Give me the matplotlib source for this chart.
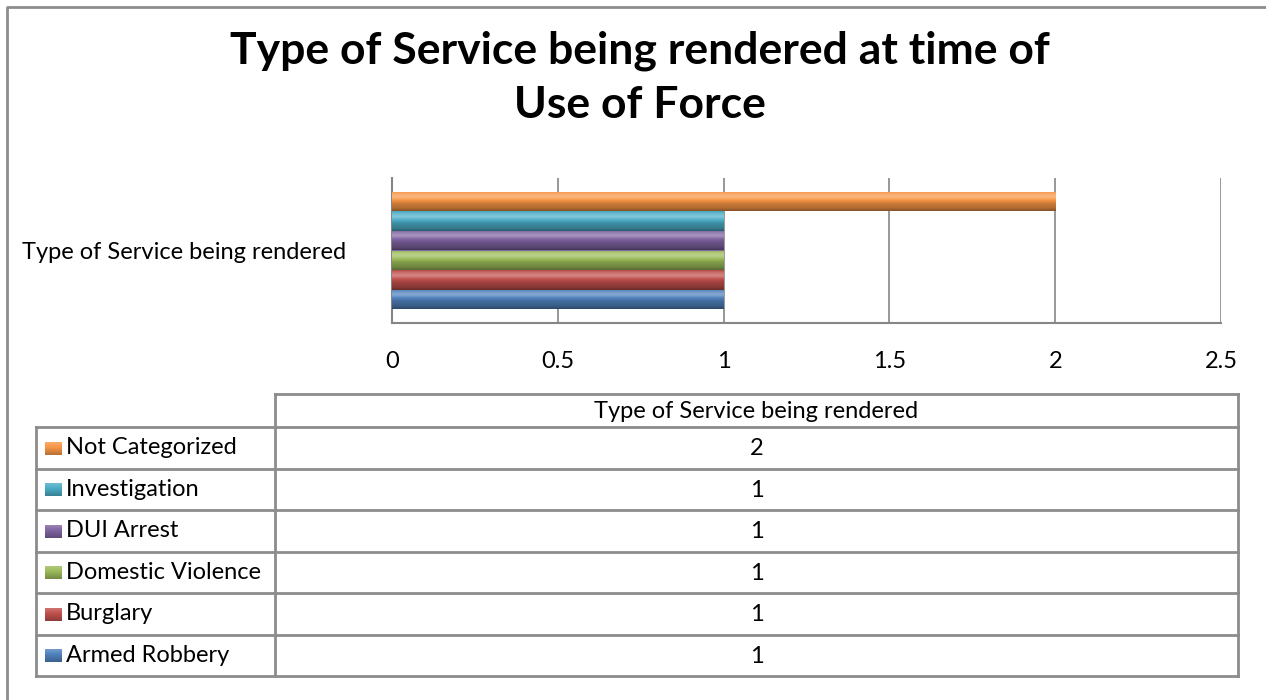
import matplotlib
matplotlib.use("Agg")
import matplotlib.pyplot as plt
import numpy as np
from matplotlib.colors import to_rgb
from matplotlib.patches import Rectangle

# ---- data ----
category = "Type of Service being rendered"
series = ["Armed Robbery", "Burglary", "Domestic Violence", "DUI Arrest",
          "Investigation", "Not Categorized"]
values = [1, 1, 1, 1, 1, 2]
colors = ["#4F81BD", "#C0504D", "#9BBB59", "#8064A2", "#4BACC6", "#F79646"]
xticks = [0, 0.5, 1, 1.5, 2, 2.5]
xticklabels = ["0", "0.5", "1", "1.5", "2", "2.5"]
title = "Type of Service being rendered at time of\nUse of Force"

FONT = ["Lato", "DejaVu Sans"]
plt.rcParams['font.family'] = FONT
FS = 17

W, H = 1266, 700
fig = plt.figure(figsize=(W / 100, H / 100), dpi=100)
GRID = "#868686"


def mix(c, t, amt):
    c = np.array(to_rgb(c)); t = np.array(to_rgb(t))
    return c * (1 - amt) + t * amt


def make_grad(c, stops, n=40):
    pos = np.linspace(0, 1, n)
    arr = np.zeros((n, 1, 3))
    sp = [s[0] for s in stops]
    for ch in range(3):
        arr[:, 0, ch] = np.interp(pos, sp, [s[1][ch] for s in stops])
    return arr


def gradient(c):
    return make_grad(c, [(0.0, mix(c, "black", 0.05)), (0.12, mix(c, "white", 0.18)),
                         (0.28, mix(c, "white", 0.32)), (0.45, np.array(to_rgb(c))),
                         (0.62, mix(c, "black", 0.18)), (0.85, mix(c, "black", 0.28)),
                         (1.0, mix(c, "black", 0.45))])


def key_gradient(c):
    return make_grad(c, [(0.0, mix(c, "white", 0.2)), (0.4, np.array(to_rgb(c))),
                         (1.0, mix(c, "black", 0.25))], n=20)


# ---- chart axes ----
px = lambda x0, y0, x1, y1: [x0 / W, 1 - y1 / H, (x1 - x0) / W, (y1 - y0) / H]
ax = fig.add_axes(px(392, 178, 1221, 323))
n = len(series)
bh = 0.1345
ypos = [(i - (n - 1) / 2) * bh for i in range(n)]
bars = ax.barh(ypos, values, height=bh, color=colors, zorder=3)
for b, c in zip(bars, colors):
    x0, y0 = b.get_x(), b.get_y()
    im = ax.imshow(gradient(c), extent=[x0, x0 + b.get_width(), y0, y0 + bh],
                   aspect="auto", zorder=4, interpolation="bilinear")
    im.set_clip_path(b)
ax.set_xlim(0, 2.5)
ax.set_ylim(-0.5, 0.5)
ax.set_xticks(xticks)
ax.set_xticklabels(xticklabels, fontsize=FS)
ax.set_yticks([0])
ax.set_yticklabels([category], fontsize=FS)
ax.tick_params(axis="x", length=0, pad=20)
ax.tick_params(axis="y", length=0, pad=33)
ax.grid(axis="x", color=GRID, linewidth=1.2, zorder=0)
for s in ["top", "right"]:
    ax.spines[s].set_visible(False)
for s in ["left", "bottom"]:
    ax.spines[s].set_color(GRID)
    ax.spines[s].set_linewidth(1.5)

# ---- overlay: title, border, data table ----
ov = fig.add_axes([0, 0, 1, 1])
ov.set_zorder(-1)
ov.axis("off")

ov.plot([7, 7, W + 5], [H + 5, 7, 7], color="#8C8C8C", lw=2)
ov.text(640, 78, title, ha="center", va="center", fontsize=32,
        fontweight="bold", linespacing=1.42)

# table
lc = "#8C8C8C"
x_left, x_mid, x_right = 36, 275, 1238
y_top, y_head = 394, 427
row_h = (676 - y_head) / n
ov.plot([x_mid, x_right], [y_top, y_top], color=lc, lw=2)
ov.plot([x_mid, x_mid], [y_top, 676], color=lc, lw=2)
ov.plot([x_right, x_right], [y_top, 676], color=lc, lw=2)
ov.plot([x_left, x_left], [y_head, 676], color=lc, lw=2)
for k in range(n + 1):
    y = y_head + k * row_h
    ov.plot([x_left, x_right], [y, y], color=lc, lw=2)
xc = (x_mid + x_right) / 2
ov.text(xc, (y_top + y_head) / 2 + 1, category, ha="center", va="center", fontsize=FS)
for k, idx in enumerate(range(n - 1, -1, -1)):
    yc = y_head + (k + 0.5) * row_h
    ov.text(xc, yc + 1, str(values[idx]), ha="center", va="center", fontsize=FS)
    ov.text(66, yc, series[idx], ha="left", va="center", fontsize=FS)
    r = Rectangle((45, yc - 6), 17, 13, facecolor=colors[idx], edgecolor="none", zorder=3)
    ov.add_patch(r)
    kim = ov.imshow(key_gradient(colors[idx]), extent=[45, 62, yc + 7, yc - 6],
                    aspect="auto", interpolation="bilinear", zorder=4)
    kim.set_clip_path(r)

ov.set_xlim(0, W)
ov.set_ylim(H, 0)
fig.savefig("out.png", dpi=100)
